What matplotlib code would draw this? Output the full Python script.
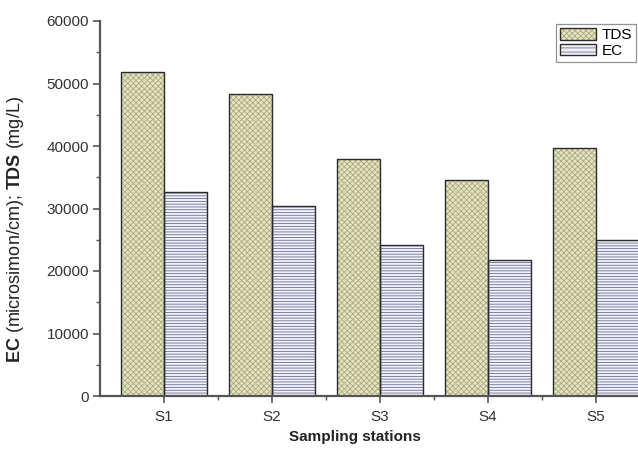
import matplotlib

matplotlib.use("Agg")
import matplotlib.pyplot as plt
import numpy as np
from matplotlib.patches import Patch
from matplotlib.ticker import MultipleLocator

plt.rcParams["font.family"] = ["Liberation Sans", "DejaVu Sans"]
plt.rcParams["mathtext.fontset"] = "custom"
plt.rcParams["mathtext.rm"] = "Liberation Sans"
plt.rcParams["mathtext.bf"] = "Liberation Sans:bold"
plt.rcParams["hatch.linewidth"] = 0.6

stations = ["S1", "S2", "S3", "S4", "S5"]
tds = [51800, 48300, 37900, 34500, 39700]
ec = [32700, 30400, 24200, 21800, 25000]

TDS_FACE = "#e4e4bc"
TDS_HATCH = "#a9a98a"
EC_FACE = "#f1f1f8"
EC_HATCH = "#6d6d98"
EDGE = "#2b2b2b"

fig = plt.figure(figsize=(6.38, 4.5), dpi=100)
ax = fig.add_axes([100 / 638, 54 / 450, 538 / 638, 375 / 450])

x = np.arange(1, len(stations) + 1)
width = 0.4

# hatched fills first, then plain outlines on top so edges stay dark
ax.bar(x - width / 2, tds, width, color=TDS_FACE, edgecolor=TDS_HATCH,
       hatch="xxxxxx", linewidth=0)
ax.bar(x + width / 2, ec, width, color=EC_FACE, edgecolor=EC_HATCH,
       hatch="------", linewidth=0)
ax.bar(x - width / 2, tds, width, fill=False, edgecolor=EDGE, linewidth=1.0)
ax.bar(x + width / 2, ec, width, fill=False, edgecolor=EDGE, linewidth=1.0)

ax.set_xlim(0.41, 5.39)
ax.set_ylim(0, 60000)
ax.set_xticks(x)
ax.set_xticklabels(stations)
ax.set_xticks(x[:-1] + 0.5, minor=True)
ax.yaxis.set_major_locator(MultipleLocator(10000))
ax.yaxis.set_minor_locator(MultipleLocator(5000))

for side in ("top", "right"):
    ax.spines[side].set_visible(False)
for side in ("left", "bottom"):
    ax.spines[side].set_color("#555555")
    ax.spines[side].set_linewidth(1.6)

ax.tick_params(which="major", direction="out", length=5, width=1.2,
               color="#555555", labelsize=11, labelcolor="#333333", pad=3)
ax.tick_params(axis="x", which="major", pad=5)
ax.tick_params(which="minor", direction="out", length=3, width=1.0,
               color="#555555")

ax.set_ylabel(r"$\bf{EC}$ (microsimon/cm); $\bf{TDS}$ (mg/L)",
              fontsize=13, color="#222222")
ax.yaxis.set_label_coords(-0.1375, 0.443)
ax.set_xlabel("Sampling stations", fontsize=11, fontweight="bold",
              color="#222222")
ax.xaxis.set_label_coords((355 - 100) / 538, -0.09)

tds_handle = (Patch(facecolor=TDS_FACE, edgecolor=TDS_HATCH, hatch="xxxxxx", linewidth=0),
              Patch(fill=False, edgecolor=EDGE, linewidth=1.0))
ec_handle = (Patch(facecolor=EC_FACE, edgecolor=EC_HATCH, hatch="----", linewidth=0),
             Patch(fill=False, edgecolor=EDGE, linewidth=1.0))
leg = fig.legend([tds_handle, ec_handle], ["TDS", "EC"],
                 loc="upper left", bbox_to_anchor=(556 / 638, 1 - 24 / 450),
                 fontsize=11, frameon=True, fancybox=False,
                 handlelength=2.4, handleheight=0.8, handletextpad=0.35,
                 borderpad=0.25, labelspacing=0.12, borderaxespad=0)
leg.get_frame().set_edgecolor("#777777")
leg.get_frame().set_linewidth(0.9)

fig.savefig("out.png", dpi=100)
